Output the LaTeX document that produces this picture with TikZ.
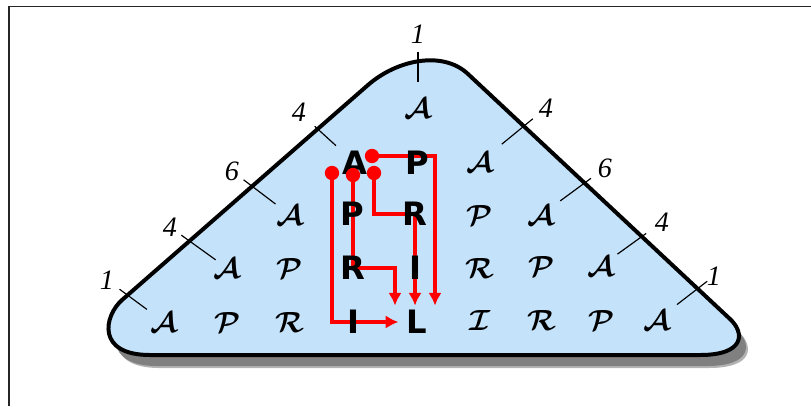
\documentclass[tikz,border=0pt]{standalone}
\usepackage{amsmath}
\usepackage{fontspec}
\newfontfamily\heavyfont{DejaVu Sans}
\newfontfamily\countfont{Liberation Serif}
\usepackage{tikz}
\usetikzlibrary{arrows.meta,calc}

\definecolor{pyramidblue}{RGB}{196,226,250}
\definecolor{routered}{RGB}{255,0,0}
\definecolor{shadowgray}{RGB}{128,128,128}

\pgfdeclarelayer{back}
\pgfdeclarelayer{mid}
\pgfsetlayers{back,mid,main}

\begin{document}
\begin{tikzpicture}[
    x=0.03cm, y=-0.03cm,
    cal/.style={font=\boldmath\fontsize{32}{36}\selectfont, inner sep=1pt},
    heavy/.style={font=\heavyfont\bfseries\fontsize{27.5}{31}\selectfont, inner sep=1pt},
    count/.style={font=\countfont\itshape\fontsize{24}{28}\selectfont, inner sep=1pt},
    tick/.style={line width=1pt},
    route/.style={draw=routered, line width=3.3pt, -{Latex[length=0.38cm,width=0.4cm]}},
    dot/.style={circle, fill=routered, inner sep=0pt, minimum size=0.43cm},
    frame/.style={draw=black!85, line width=1.5pt}
]
    \useasboundingbox (0,0) rectangle (811,406);
    \draw[frame] (9,406) -- (9,6.5) -- (811,6.5);

    % Pyramide mit Schatten
    \begin{pgfonlayer}{back}
    \fill[shadowgray!60, shift={(9,13)}] (150,355) -- (700,355) .. controls (745,355) and (745,333) .. (730,319)
        -- (468,74) .. controls (442.5,50) and (396.6,60) .. (368,85)
        -- (122,300) .. controls (104,316) and (96,355) .. (150,355) -- cycle;
    \fill[shadowgray, shift={(7,11)}] (150,355) -- (700,355) .. controls (745,355) and (745,333) .. (730,319)
        -- (468,74) .. controls (442.5,50) and (396.6,60) .. (368,85)
        -- (122,300) .. controls (104,316) and (96,355) .. (150,355) -- cycle;
    \draw[fill=pyramidblue, line width=3.4pt] (150,355) -- (700,355) .. controls (745,355) and (745,333) .. (730,319)
        -- (468,74) .. controls (442.5,50) and (396.6,60) .. (368,85)
        -- (122,300) .. controls (104,316) and (96,355) .. (150,355) -- cycle;
    \end{pgfonlayer}

    % Zeile 0
    \node (r0c0) [cal] at (418,108) {$\mathcal{A}$};
    % Zeile 1
    \node (r1c0) [heavy] at (355,163) {A};
    \node (r1c1) [heavy] at (417,163) {P};
    \node (r1c2) [cal] at (480,162) {$\mathcal{A}$};
    % Zeile 2
    \node (r2c0) [cal] at (290,215) {$\mathcal{A}$};
    \node (r2c1) [heavy] at (352,214) {P};
    \node (r2c2) [heavy] at (415,214) {R};
    \node (r2c3) [cal] at (480,215) {$\mathcal{P}$};
    \node (r2c4) [cal] at (541,215) {$\mathcal{A}$};
    % Zeile 3
    \node (r3c0) [cal] at (227,268) {$\mathcal{A}$};
    \node (r3c1) [cal] at (290,268) {$\mathcal{P}$};
    \node (r3c2) [heavy] at (353,268) {R};
    \node (r3c3) [heavy] at (415,268) {I};
    \node (r3c4) [cal] at (480,268) {$\mathcal{R}$};
    \node (r3c5) [cal] at (542,266) {$\mathcal{P}$};
    \node (r3c6) [cal] at (601,266) {$\mathcal{A}$};
    % Zeile 4
    \node (r4c0) [cal] at (164,322) {$\mathcal{A}$};
    \node (r4c1) [cal] at (228,322) {$\mathcal{P}$};
    \node (r4c2) [cal] at (290,322) {$\mathcal{R}$};
    \node (r4c3) [heavy] at (353,322) {I};
    \node (r4c4) [heavy] at (417,322) {L};
    \node (r4c5) [cal] at (480,320) {$\mathcal{I}$};
    \node (r4c6) [cal] at (542,320) {$\mathcal{R}$};
    \node (r4c7) [cal] at (602,320) {$\mathcal{P}$};
    \node (r4c8) [cal] at (657,320) {$\mathcal{A}$};

    % Startpunkte der Wege
    \node (dot1) [dot] at (372,156) {};
    \node (dot2) [dot] at (332,173) {};
    \node (dot3) [dot] at (353,175) {};
    \node (dot4) [dot] at (374,173) {};

    % Wege zum L
    \begin{pgfonlayer}{mid}
    \draw[route] (dot1.center) -| ([xshift=0.54cm,yshift=0.1cm]r4c4.north);
    \draw[route] (dot2.center) |- ([xshift=-0.21cm]r4c4.west);
    \draw[route] (dot3.center) -- (dot3.center |- r3c2) -| ([xshift=-0.66cm,yshift=0.1cm]r4c4.north);
    \draw[route] (dot4.center) |- (r2c2.center) -- ([yshift=0.1cm]r2c2.center |- r4c4.north);
    \end{pgfonlayer}

    % Anzahlen am Rand
    \node (n0) [count] at (418,34) {1};
    \node (n1l) [count] at (299,112) {4};
    \node (n1r) [count] at (546,108) {4};
    \node (n2l) [count] at (232,171) {6};
    \node (n2r) [count] at (605,168) {6};
    \node (n3l) [count] at (170,227) {4};
    \node (n3r) [count] at (662,222) {4};
    \node (n4l) [count] at (107,280) {1};
    \node (n4r) [count] at (714,276) {1};

    \draw[tick] ($(n0)!0.24!(r0c0)$) -- ($(n0)!0.65!(r0c0)$);
    \draw[tick] ($(n1l)!0.28!(r1c0)$) -- ($(n1l)!0.66!(r1c0)$);
    \draw[tick] ($(n1r)!0.2!(r1c2)$) -- ($(n1r)!0.67!(r1c2)$);
    \draw[tick] ($(n2l)!0.2!(r2c0)$) -- ($(n2l)!0.75!(r2c0)$);
    \draw[tick] ($(n2r)!0.22!(r2c4)$) -- ($(n2r)!0.7!(r2c4)$);
    \draw[tick] ($(n3l)!0.2!(r3c0)$) -- ($(n3l)!0.8!(r3c0)$);
    \draw[tick] ($(n3r)!0.26!(r3c6)$) -- ($(n3r)!0.73!(r3c6)$);
    \draw[tick] ($(n4l)!0.22!(r4c0)$) -- ($(n4l)!0.7!(r4c0)$);
    \draw[tick] ($(n4r)!0.12!(r4c8)$) -- ($(n4r)!0.65!(r4c8)$);

\end{tikzpicture}
\end{document}
